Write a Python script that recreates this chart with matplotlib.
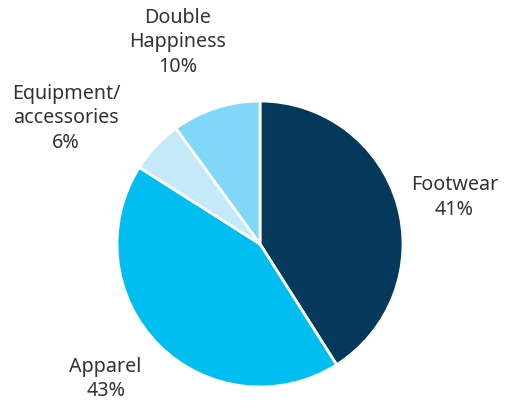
import numpy as np
import matplotlib
matplotlib.use("Agg")
import matplotlib.pyplot as plt

# sales split by category, clockwise from 12 o'clock
labels = ["Footwear", "Apparel", "Equipment/\naccessories", "Double\nHappiness"]
shares = [41, 43, 6, 10]
colors = ["#04395b", "#00bff0", "#c4eafa", "#80d7f7"]
label_dist = [1.40, 1.43, 1.62, 1.53]   # radial position of each label
label_shift = [-2.5, -4.0, 10.0, 4.0]  # angular nudge (deg)

plt.rcParams["font.family"] = ["Noto Sans", "DejaVu Sans"]

fig = plt.figure(figsize=(5.05, 4.10), dpi=100)
W, H = 505, 410
cx, cy, r = 260, 245, 143
ax = fig.add_axes([(cx - r) / W, (H - cy - r) / H, 2 * r / W, 2 * r / H])

wedges, _ = ax.pie(shares, colors=colors, startangle=90, counterclock=False,
                   radius=1, wedgeprops=dict(edgecolor="white", linewidth=2))
ax.set_xlim(-1, 1); ax.set_ylim(-1, 1)
ax.set_aspect("equal")
ax.axis("off")

for w, lab, v, d, s in zip(wedges, labels, shares, label_dist, label_shift):
    ang = np.deg2rad((w.theta1 + w.theta2) / 2 + s)
    ax.text(d * np.cos(ang), d * np.sin(ang), f"{lab}\n{v}%", ha="center", va="center",
            fontsize=14.2, color="#333333", linespacing=1.3, clip_on=False)

fig.savefig("out.png", dpi=100)
